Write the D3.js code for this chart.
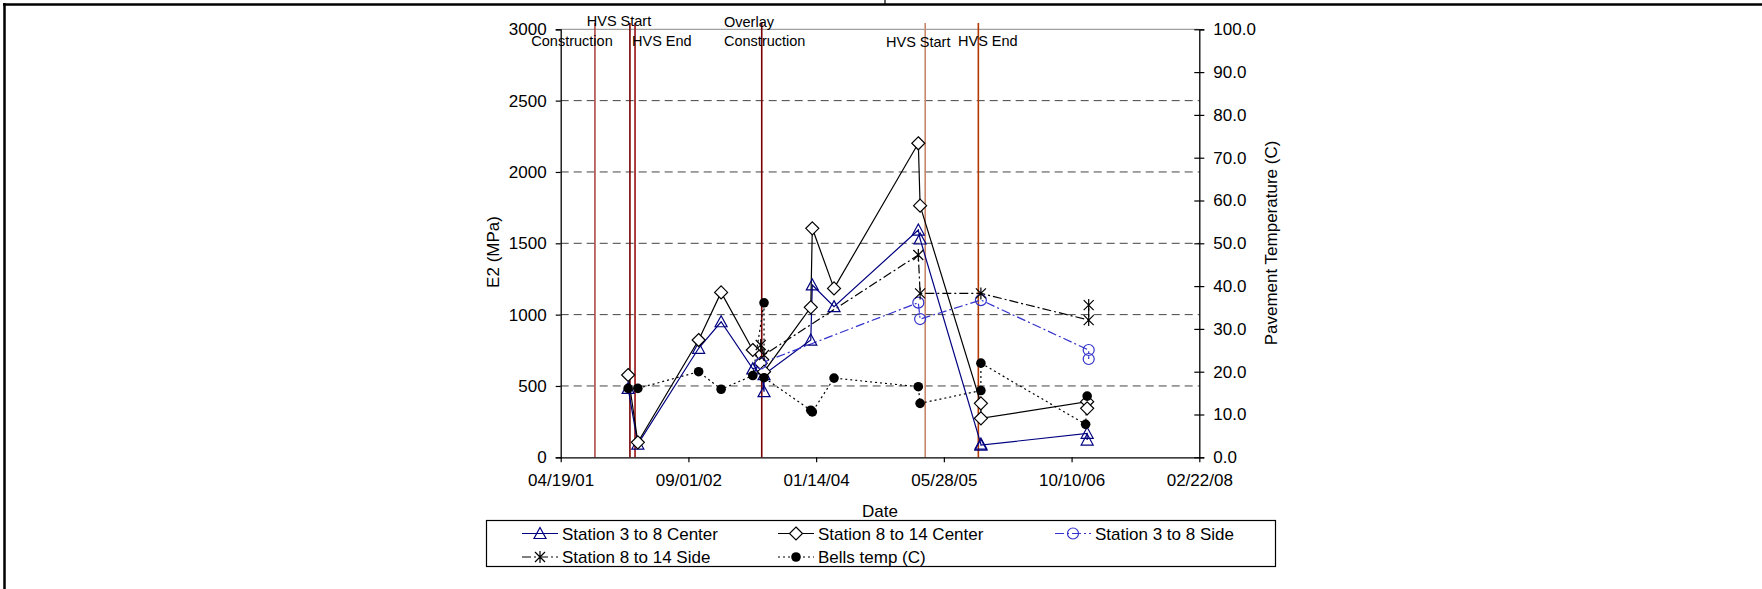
<!DOCTYPE html>
<html>
<head>
<meta charset="utf-8">
<script src="https://cdn.jsdelivr.net/npm/d3@7"></script>
<style>
  body { margin: 0; background: #fff; }
  text { font-family: "Liberation Sans", Arial, sans-serif; fill: #000; }
</style>
</head>
<body>
<div id="chart"></div>
<script>
// ---- data (dates as mm/dd/yy, E2 in MPa, temperature in C) ----
var xTickLabels = ["04/19/01", "09/01/02", "01/14/04", "05/28/05", "10/10/06", "02/22/08"];
var yLeftTicks = [0, 500, 1000, 1500, 2000, 2500, 3000];
var yRightTicks = [0, 10, 20, 30, 40, 50, 60, 70, 80, 90, 100];

var center38 = [
  ["01/08/02", 483], ["02/15/02", 93], ["10/11/02", 764], ["01/07/03", 950],
  ["05/11/03", 620], ["06/11/03", 640], ["06/24/03", 460], ["06/24/03", 580],
  ["12/24/03", 822], ["12/30/03", 1208], ["03/24/04", 1056],
  ["02/17/05", 1593], ["02/24/05", 1530], ["10/20/05", 93], ["10/20/05", 85],
  ["12/10/06", 168], ["12/10/06", 121]
];
var center814 = [
  ["01/08/02", 577], ["02/15/02", 105], ["10/11/02", 822], ["01/07/03", 1156],
  ["05/11/03", 752], ["06/11/03", 660], ["06/24/03", 600],
  ["12/24/03", 1051], ["12/30/03", 1605], ["03/24/04", 1184],
  ["02/17/05", 2201], ["02/24/05", 1764], ["10/20/05", 378], ["10/20/05", 273],
  ["12/10/06", 390], ["12/10/06", 343]
];
var side38 = [
  ["06/11/03", 659], ["02/17/05", 1084], ["02/24/05", 969], ["10/20/05", 1102],
  ["12/16/06", 752], ["12/16/06", 689]
];
var side814 = [
  ["06/11/03", 787], ["06/24/03", 717], ["02/17/05", 1418], ["02/24/05", 1149],
  ["10/20/05", 1149], ["12/16/06", 962], ["12/16/06", 1067]
];
var bellsTemp = [
  ["01/08/02", 16.1], ["02/15/02", 16.1], ["10/11/02", 20.0], ["01/07/03", 15.9],
  ["05/11/03", 19.1], ["06/24/03", 36.1], ["06/24/03", 18.6],
  ["12/24/03", 11.0], ["12/30/03", 10.6], ["03/24/04", 18.5],
  ["02/17/05", 16.5], ["02/24/05", 12.6], ["10/20/05", 15.6], ["10/20/05", 22.0],
  ["12/04/06", 7.7], ["12/10/06", 14.3]
];
var eventDates = ["08/31/01", "01/15/02", "02/04/02", "06/15/03", "03/16/05", "10/10/05"];
var eventColors = ["#b04848", "#7a0000", "#9a1010", "#7a0000", "#c8876a", "#b23a00"];

var width = 1762, height = 589;
var parse = d3.utcParse("%m/%d/%y");

var svg = d3.select("#chart").append("svg")
    .attr("width", width)
    .attr("height", height);

// page frame bits
svg.append("line").attr("x1", 3).attr("x2", width).attr("y1", 4.5).attr("y2", 4.5)
  .style("stroke", "#000").style("stroke-width", 2.5);
svg.append("line").attr("x1", 4.5).attr("x2", 4.5).attr("y1", 3).attr("y2", height)
  .style("stroke", "#000").style("stroke-width", 2.5);
svg.append("line").attr("x1", 885).attr("x2", 885).attr("y1", 0).attr("y2", 4)
  .style("stroke", "#000").style("stroke-width", 1.2);

var x = d3.scaleUtc()
    .domain([parse(xTickLabels[0]), parse(xTickLabels[xTickLabels.length - 1])])
    .range([560.7, 1199.3]);
var yL = d3.scaleLinear().domain([0, 3000]).range([457.3, 29.3]);
var yR = d3.scaleLinear().domain([0, 100]).range([457.3, 29.3]);

// gridlines
svg.selectAll(".grid")
    .data(yLeftTicks.filter(function(d) { return d > 0 && d < 3000; }))
  .enter().append("line")
  .attr("class", "grid")
  .attr("x1", 560.7).attr("x2", 1199.3)
  .attr("y1", function(d) { return yL(d); })
  .attr("y2", function(d) { return yL(d); })
  .style("stroke", "#444").style("stroke-width", 1)
  .style("stroke-dasharray", "8,5");
svg.append("line").attr("x1", 560.7).attr("x2", 1199.3)
  .attr("y1", yL(3000)).attr("y2", yL(3000))
  .style("stroke", "#a0a0a0").style("stroke-width", 1.2);

// event lines
svg.selectAll(".event")
    .data(eventDates)
  .enter().append("line")
  .attr("class", "event")
  .attr("x1", function(d) { return x(parse(d)); })
  .attr("x2", function(d) { return x(parse(d)); })
  .attr("y1", 23).attr("y2", yL(0))
  .style("stroke", function(d, i) { return eventColors[i]; })
  .style("stroke-width", 1.6);

// axes
var fs = "17px";
var xAxis = d3.axisBottom(x)
    .tickValues(xTickLabels.map(parse))
    .tickFormat(d3.utcFormat("%m/%d/%y"))
    .tickSize(5).tickPadding(12);
var gx = svg.append("g").attr("transform", "translate(0," + yL(0) + ")").call(xAxis);
var yAxisL = d3.axisLeft(yL).tickValues(yLeftTicks).tickFormat(d3.format("d"))
    .tickSize(5).tickPadding(9);
var gl = svg.append("g").attr("transform", "translate(560.7,0)").call(yAxisL);
var yAxisR = d3.axisRight(yR).tickValues(yRightTicks)
    .tickFormat(d3.format(".1f")).tickSize(5).tickPadding(9);
var gr = svg.append("g").attr("transform", "translate(1199.3,0)").call(yAxisR);
gr.selectAll(".tick line").attr("x1", -5);
[gx, gl, gr].forEach(function(g) {
  g.select(".domain").style("stroke", "#000").style("stroke-width", 1.3);
  g.selectAll(".tick line").style("stroke", "#000").style("stroke-width", 1.2);
  g.selectAll(".tick text").style("font-size", fs)
    .style("font-family", "'Liberation Sans', Arial, sans-serif");
});
gx.select(".domain").attr("d", "M560.7,0.5H1199.3");

// axis titles
svg.append("text").attr("x", 880).attr("y", 517).attr("text-anchor", "middle")
  .style("font-size", fs).text("Date");
svg.append("text").attr("transform", "translate(499,252) rotate(-90)")
  .attr("text-anchor", "middle").style("font-size", fs).text("E2 (MPa)");
svg.append("text").attr("transform", "translate(1277,243) rotate(-90)")
  .attr("text-anchor", "middle").style("font-size", fs).text("Pavement Temperature (C)");

// event labels
var lf = "14.5px";
var notes = [
  ["HVS Start", 619, 25.5, "middle"], ["Construction", 572, 46, "middle"],
  ["HVS End", 632, 45.5, "start"], ["Overlay", 724, 27, "start"],
  ["Construction", 724, 46, "start"], ["HVS Start", 886, 46.5, "start"],
  ["HVS End", 958, 46, "start"]
];
svg.selectAll(".note").data(notes).enter().append("text")
  .attr("class", "note")
  .attr("x", function(d) { return d[1]; })
  .attr("y", function(d) { return d[2]; })
  .attr("text-anchor", function(d) { return d[3]; })
  .style("font-size", lf)
  .text(function(d) { return d[0]; });

// marker shapes
function drawMarker(g, type, cx, cy, color) {
  if (type == "tri") {
    g.append("path").attr("d", "M" + cx + "," + (cy - 6) + "L" + (cx + 6) + "," + (cy + 5) + "L" + (cx - 6) + "," + (cy + 5) + "Z")
      .style("fill", "none").style("stroke", color).style("stroke-width", 1.2);
  } else if (type == "dia") {
    g.append("path").attr("d", "M" + cx + "," + (cy - 6.5) + "L" + (cx + 6.5) + "," + cy + "L" + cx + "," + (cy + 6.5) + "L" + (cx - 6.5) + "," + cy + "Z")
      .style("fill", "#fff").style("stroke", color).style("stroke-width", 1.2);
  } else if (type == "circ") {
    g.append("circle").attr("cx", cx).attr("cy", cy).attr("r", 5.5)
      .style("fill", "none").style("stroke", color).style("stroke-width", 1.2);
  } else if (type == "star") {
    g.append("path").attr("d", "M" + (cx - 5) + "," + (cy - 5) + "L" + (cx + 5) + "," + (cy + 5) +
      "M" + (cx + 5) + "," + (cy - 5) + "L" + (cx - 5) + "," + (cy + 5) +
      "M" + cx + "," + (cy - 6) + "L" + cx + "," + (cy + 6))
      .style("stroke", color).style("stroke-width", 1.2);
  } else if (type == "dot") {
    g.append("circle").attr("cx", cx).attr("cy", cy).attr("r", 4.8).style("fill", color);
  }
}

var seriesDefs = [
  { data: center38, scale: yL, color: "#000080", dash: null, marker: "tri", label: "Station 3 to 8 Center" },
  { data: center814, scale: yL, color: "#000000", dash: null, marker: "dia", label: "Station 8 to 14 Center" },
  { data: side38, scale: yL, color: "#3333cc", dash: "9,3,2,3", marker: "circ", label: "Station 3 to 8 Side" },
  { data: side814, scale: yL, color: "#000000", dash: "9,3,2,3", marker: "star", label: "Station 8 to 14 Side" },
  { data: bellsTemp, scale: yR, color: "#000000", dash: "2,3", marker: "dot", label: "Bells temp (C)" }
];

seriesDefs.forEach(function(s) {
  var line = d3.line()
    .x(function(d) { return x(parse(d[0])); })
    .y(function(d) { return s.scale(d[1]); });
  svg.append("path").datum(s.data).attr("d", line)
    .style("fill", "none").style("stroke", s.color).style("stroke-width", 1.2)
    .style("stroke-dasharray", s.dash);
});
seriesDefs.forEach(function(s) {
  var g = svg.append("g");
  s.data.forEach(function(d) {
    drawMarker(g, s.marker, x(parse(d[0])), s.scale(d[1]), s.color);
  });
});

// legend
var lg = svg.append("g");
lg.append("rect").attr("x", 486.5).attr("y", 520.5).attr("width", 789).attr("height", 46)
  .style("fill", "#fff").style("stroke", "#000").style("stroke-width", 1.2);
var legPos = [[522, 533.5], [778, 533.5], [1055, 533.5], [522, 557], [778, 557]];
seriesDefs.forEach(function(s, i) {
  var lx = legPos[i][0], ly = legPos[i][1];
  lg.append("line").attr("x1", lx).attr("x2", lx + 36).attr("y1", ly).attr("y2", ly)
    .style("stroke", s.color).style("stroke-width", 1.2).style("stroke-dasharray", s.dash);
  drawMarker(lg, s.marker, lx + 18, ly, s.color);
  lg.append("text").attr("x", lx + 40).attr("y", ly + 6)
    .style("font-size", fs).text(s.label);
});
</script>
</body>
</html>
